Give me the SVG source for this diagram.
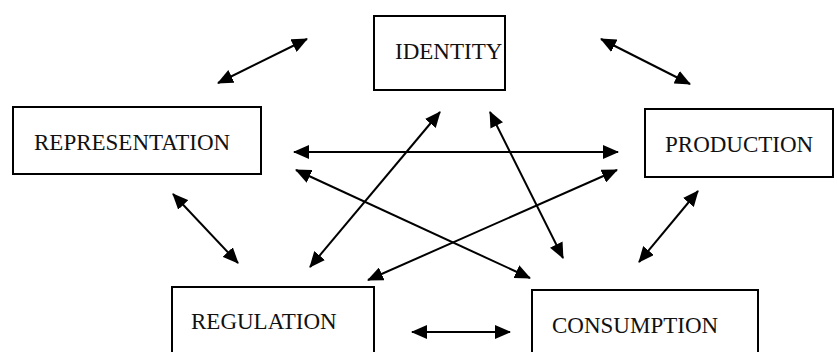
<svg xmlns="http://www.w3.org/2000/svg" width="837" height="352" viewBox="0 0 837 352">
<style>
.box{fill:#fff;stroke:#000;stroke-width:2}
.lbl{font-family:"Liberation Serif","Times New Roman",serif;font-size:23px;fill:#111}
.con{stroke:#000;stroke-width:2;fill:none;marker-start:url(#ah);marker-end:url(#ah)}
</style>
<defs>
<marker id="ah" viewBox="0 0 16 14" refX="15" refY="7" markerWidth="16" markerHeight="14" markerUnits="userSpaceOnUse" orient="auto-start-reverse">
<path d="M0,0 L16,7 L0,14 z" fill="#000"/>
</marker>
</defs>
<rect width="837" height="352" fill="#fff"/>
<g id="identity"><rect class="box" x="374" y="16" width="131" height="74"/><text class="lbl" x="395" y="59">IDENTITY</text></g>
<g id="representation"><rect class="box" x="13" y="107" width="248" height="67"/><text class="lbl" x="34" y="150">REPRESENTATION</text></g>
<g id="production"><rect class="box" x="645" y="109" width="188" height="68"/><text class="lbl" x="665" y="152">PRODUCTION</text></g>
<g id="regulation"><rect class="box" x="172" y="287" width="202" height="70"/><text class="lbl" x="191" y="329">REGULATION</text></g>
<g id="consumption"><rect class="box" x="532" y="290" width="226" height="70"/><text class="lbl" x="552" y="333">CONSUMPTION</text></g>
<g id="connectors">
<line class="con" x1="218" y1="83" x2="307" y2="39"/>
<line class="con" x1="601" y1="39" x2="690" y2="84"/>
<line class="con" x1="294" y1="152" x2="618" y2="152"/>
<line class="con" x1="173" y1="194" x2="238" y2="263"/>
<line class="con" x1="296" y1="170" x2="530" y2="278"/>
<line class="con" x1="440" y1="112" x2="310" y2="267"/>
<line class="con" x1="490" y1="112" x2="563" y2="258"/>
<line class="con" x1="617" y1="170" x2="368" y2="280"/>
<line class="con" x1="698" y1="191" x2="639" y2="262"/>
<line class="con" x1="412" y1="332" x2="510" y2="332"/>
</g>
</svg>
